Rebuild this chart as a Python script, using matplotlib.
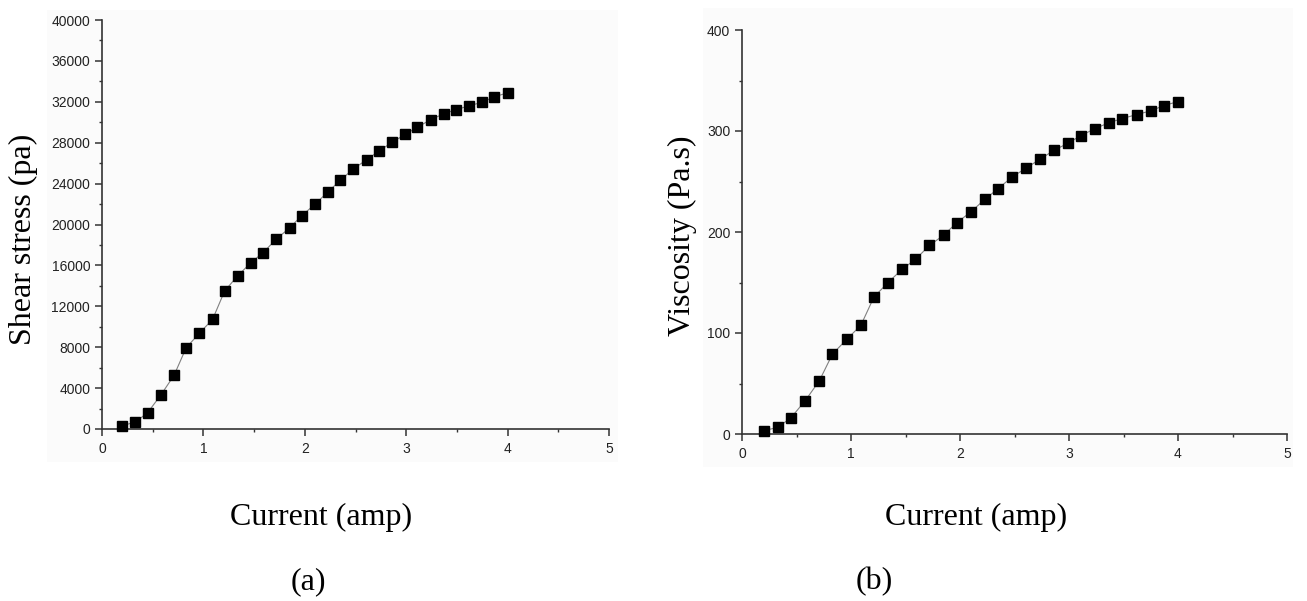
import matplotlib
matplotlib.use("Agg")
import matplotlib.pyplot as plt
from matplotlib.ticker import MultipleLocator
from matplotlib.patches import Rectangle

# Applied current (amp)
current = [0.2, 0.33, 0.45, 0.58, 0.71, 0.83, 0.96, 1.09, 1.21, 1.34, 1.47,
           1.59, 1.72, 1.85, 1.97, 2.1, 2.23, 2.35, 2.48, 2.61, 2.73, 2.86,
           2.99, 3.11, 3.24, 3.37, 3.49, 3.62, 3.75, 3.87, 4.0]

# Shear stress (pa)
shear_stress = [330, 680, 1600, 3320, 5240, 7940, 9370, 10710, 13510, 15000,
                16280, 17250, 18590, 19660, 20870, 21970, 23210, 24320, 25450,
                26330, 27180, 28030, 28810, 29520, 30240, 30830, 31220, 31610,
                31960, 32490, 32880]

# Viscosity (Pa.s)
viscosity = [3.3, 6.6, 16.2, 33.0, 52.8, 79.1, 93.7, 107.5, 135.5, 150.0,
             163.2, 172.8, 186.7, 196.9, 209.1, 220.0, 232.5, 243.0, 254.6,
             263.5, 271.8, 280.7, 287.9, 295.5, 302.4, 308.4, 312.3, 316.3,
             319.9, 325.2, 329.1]

x_label = "Current (amp)"
panel_tags = ["(a)", "(b)"]

W, H = 1307, 601
fig = plt.figure(figsize=(W / 100, H / 100), dpi=100)
fig.patch.set_facecolor("white")


def px_rect(x0, y0, x1, y1):
    """Pixel box (top-left origin) -> figure fraction [l, b, w, h]."""
    return [x0 / W, 1 - y1 / H, (x1 - x0) / W, (y1 - y0) / H]


# faint panel backgrounds, kept beneath the axes
for x0, y0, x1, y1 in [(47, 10, 618, 462), (703, 8, 1293, 467)]:
    l, b, w, h = px_rect(x0, y0, x1, y1)
    fig.add_artist(Rectangle((l, b), w, h, transform=fig.transFigure,
                             facecolor="#fbfbfb", edgecolor="none",
                             zorder=-10))

ax1 = fig.add_axes(px_rect(102, 20, 609, 429))
ax2 = fig.add_axes(px_rect(742, 30, 1287, 434))

spine_col = "#333333"
tick_family = "Liberation Sans"
tick_size = 10


def style(ax, ymax, ymajor, yminor):
    ax.set_facecolor("none")
    ax.set_xlim(0, 5)
    ax.set_ylim(0, ymax)
    for s in ("top", "right"):
        ax.spines[s].set_visible(False)
    for s in ("left", "bottom"):
        ax.spines[s].set_color(spine_col)
        ax.spines[s].set_linewidth(1.2)
    ax.xaxis.set_major_locator(MultipleLocator(1))
    ax.xaxis.set_minor_locator(MultipleLocator(0.5))
    ax.yaxis.set_major_locator(MultipleLocator(ymajor))
    ax.yaxis.set_minor_locator(MultipleLocator(yminor))
    ax.tick_params(which="major", direction="out", length=5, width=1.1,
                   color=spine_col, labelcolor="#222222", pad=3.5)
    ax.tick_params(which="minor", direction="out", length=2.5, width=1.0,
                   color=spine_col)
    ax.tick_params(axis="x", which="major", pad=4.5)
    for lab in ax.get_xticklabels() + ax.get_yticklabels():
        lab.set_fontfamily(tick_family)
        lab.set_fontsize(tick_size)


def draw(ax, y):
    ax.plot(current, y, color="#808080", linewidth=0.8, zorder=2,
            clip_on=False)
    ax.plot(current, y, linestyle="none", marker="s", markersize=7,
            markerfacecolor="black", markeredgecolor="black", zorder=3,
            clip_on=False)


draw(ax1, shear_stress)
style(ax1, 40000, 4000, 2000)
draw(ax2, viscosity)
style(ax2, 400, 100, 50)

serif = "Liberation Serif"
fig.text(23 / W, 1 - 239 / H, "Shear stress (pa)", rotation=90, ha="center",
         va="center", family=serif, fontsize=23)
fig.text(682 / W, 1 - 236 / H, "Viscosity (Pa.s)", rotation=90, ha="center",
         va="center", family=serif, fontsize=23)
fig.text(321 / W, 1 - 517 / H, x_label, ha="center", va="center",
         family=serif, fontsize=23)
fig.text(976 / W, 1 - 517 / H, x_label, ha="center", va="center",
         family=serif, fontsize=23)
fig.text(308 / W, 1 - 582 / H, panel_tags[0], ha="center", va="center",
         family=serif, fontsize=23)
fig.text(874 / W, 1 - 582 / H, panel_tags[1], ha="center", va="center",
         family=serif, fontsize=23)

fig.savefig("out.png", dpi=100, facecolor="white")
